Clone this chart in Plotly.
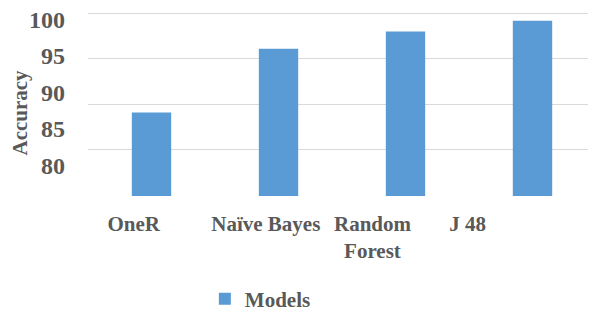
import plotly.graph_objects as go

# ---- data ----
models = ["OneR", "Naïve Bayes", "Random Forest", "J 48"]
model_labels = ["OneR", "Naïve Bayes", "Random<br>Forest", "J 48"]
accuracy = [89.1, 96.1, 98.0, 99.2]
y_tick_labels = ["100", "95", "90", "85", "80"]
y_title = "Accuracy"

# ---- layout constants (label placement as in the reference) ----
x_label_pos = [-0.14, 0.90, 1.74, 2.49]
y_label_pos = [99.32, 95.32, 91.31, 87.32, 83.30]

GRAY = "#595959"
FONT = "Liberation Serif"
Y_RANGE = [79.9, 100.15]

fig = go.Figure()
fig.add_trace(go.Bar(
    x=list(range(len(models))), y=accuracy, name="Models",
    marker=dict(color="#5b9bd5", line=dict(width=0)),
    xaxis="x", yaxis="y",
))
fig.add_trace(go.Scatter(x=[None], y=[None], xaxis="x2", yaxis="y2",
                         showlegend=False, hoverinfo="skip", mode="markers"))

fig.update_layout(
    width=596, height=314,
    margin=dict(l=80, r=8, t=4, b=126, autoexpand=False),
    paper_bgcolor="white", plot_bgcolor="white",
    bargap=0.69,
    font=dict(family=FONT, color=GRAY, size=20, weight="bold"),
    xaxis=dict(range=[-0.5, 3.5], tickvals=list(range(len(models))),
               showticklabels=False, showgrid=False, zeroline=False,
               showline=False, ticks="", automargin=False),
    yaxis=dict(range=Y_RANGE, dtick=5, tick0=80, showticklabels=False,
               showgrid=True, gridcolor="#d9d9d9", gridwidth=1.3,
               zeroline=False, showline=False, ticks="", automargin=False),
    xaxis2=dict(range=[-0.5, 3.5], overlaying="x", anchor="y2", side="bottom",
                tickmode="array", tickvals=x_label_pos, ticktext=model_labels,
                showgrid=False, zeroline=False, showline=False, ticks="",
                automargin=False, ticklabelstandoff=13, ticklabeloverflow="allow",
                tickfont=dict(family=FONT, size=21, color=GRAY, weight="bold")),
    yaxis2=dict(range=Y_RANGE, overlaying="y", anchor="x2", side="left",
                tickmode="array", tickvals=y_label_pos, ticktext=y_tick_labels,
                showgrid=False, zeroline=False, showline=False, ticks="",
                automargin=False, ticklabelstandoff=22, ticklabeloverflow="allow",
                tickfont=dict(family=FONT, size=24, color=GRAY, weight="bold")),
    annotations=[dict(text=y_title, textangle=-90, xref="paper", yref="paper",
                      x=-0.133, y=0.456, xanchor="center", yanchor="middle",
                      showarrow=False,
                      font=dict(family=FONT, size=21, color=GRAY, weight="bold"))],
    legend=dict(orientation="h", x=0.23, xanchor="left", y=-0.56, yanchor="middle",
                font=dict(family=FONT, size=21, color=GRAY, weight="bold"),
                bgcolor="rgba(0,0,0,0)"),
    showlegend=True,
)

fig.write_html("out.html")
